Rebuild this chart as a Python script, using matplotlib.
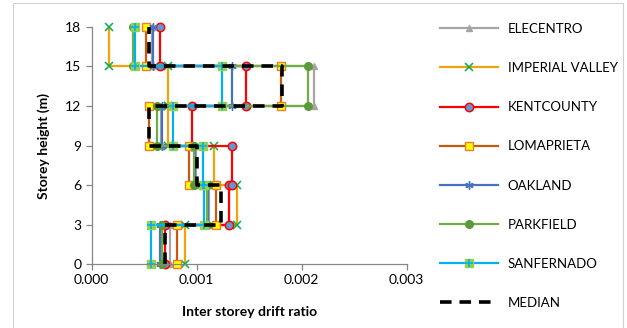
import numpy as np
import matplotlib
matplotlib.use("Agg")
import matplotlib.pyplot as plt
from matplotlib.patches import Rectangle

plt.rcParams['font.family'] = ['Lato', 'DejaVu Sans']

# storey levels (m) and inter storey drift per storey (ground storey first)
heights = [0, 3, 6, 9, 12, 15, 18]
elecentro = [0.000742, 0.00112, 0.000993, 0.000660, 0.00212, 0.000570]
imperial_valley = [0.000889, 0.001387, 0.001165, 0.000728, 0.000728, 0.000168]
kentcounty = [0.000695, 0.001310, 0.001336, 0.000958, 0.00147, 0.000650]
lomaprieta = [0.000815, 0.001184, 0.000930, 0.000546, 0.00180, 0.000518]
oakland = [0.000652, 0.001110, 0.000985, 0.000665, 0.001336, 0.000587]
parkfield = [0.000670, 0.001095, 0.000970, 0.000625, 0.002057, 0.000395]
sanfernado = [0.000560, 0.001070, 0.001057, 0.000771, 0.001238, 0.000414]
median = [0.000700, 0.001230, 0.001006, 0.000546, 0.001810, 0.000545]

labels = ['ELECENTRO', 'IMPERIAL VALLEY', 'KENTCOUNTY', 'LOMAPRIETA',
          'OAKLAND', 'PARKFIELD', 'SANFERNADO']
series = [elecentro, imperial_valley, kentcounty, lomaprieta,
          oakland, parkfield, sanfernado]
styles = [
    dict(color='#A5A5A5', marker='^', mfc='#A5A5A5', mec='#A5A5A5', ms=5),
    dict(color='#F0A30A', marker='x', mfc='none', mec='#00B050', ms=6, mew=1.1),
    dict(color='#FF0000', marker='o', mfc='#5B9BD5', mec='#FF0000', ms=6, mew=1.1),
    dict(color='#C55A11', marker='s', mfc='#FFFF00', mec='#ED7D31', ms=5.5, mew=1.0),
    dict(color='#4472C4', marker=(6, 2, 0), mfc='#4472C4', mec='#4472C4', ms=6, mew=1.0),
    dict(color='#70AD47', marker='o', mfc='#5B9A3A', mec='#5B9A3A', ms=5.5),
    dict(color='#00B0F0', marker='s', mfc='#92D050', mec='#92D050', ms=5.5),
]


def step_profile(drift):
    # each storey drift held constant between its floor and roof level
    x = np.repeat(drift, 2)
    y = np.repeat(heights, 2)[1:-1]
    return x, y


fig = plt.figure(figsize=(6.27, 3.28), dpi=100)
fig.patches.append(Rectangle((0.021, -0.02), 0.972, 1.01, transform=fig.transFigure,
                             fill=False, edgecolor='#D0D0D0', lw=0.8))
ax = fig.add_axes([0.1463, 0.1951, 0.5023, 0.7226])

handles = []
for drift, label, st in zip(series, labels, styles):
    x, y = step_profile(drift)
    line, = ax.plot(x, y, lw=1.6, label=label, clip_on=False, **st)
    handles.append(line)

# San Fernando marker gets a cyan cross on top of the green square
x, y = step_profile(sanfernado)
cross, = ax.plot(x, y, ls='none', marker='+', ms=6, mew=1.2, color='#00B0F0',
                 clip_on=False)
handles[-1] = (handles[-1], cross)

x, y = step_profile(median)
med, = ax.plot(x, y, color='black', lw=2.6, ls=(0, (3.2, 2.2)), label='MEDIAN',
               clip_on=False)
handles.append(med)

ax.set_xlim(0, 0.003)
ax.set_ylim(0, 18)
ax.set_xticks([0, 0.001, 0.002, 0.003])
ax.set_xticklabels(['0.000', '0.001', '0.002', '0.003'])
ax.set_yticks(heights)
for side in ['top', 'right']:
    ax.spines[side].set_visible(False)
for side in ['left', 'bottom']:
    ax.spines[side].set_color('#868686')
    ax.spines[side].set_linewidth(0.9)
ax.tick_params(colors='#868686', labelcolor='black', labelsize=10,
               length=4, width=0.9)
ax.set_xlabel('Inter storey drift ratio', fontsize=10, fontweight='bold', labelpad=14)
ax.set_ylabel('Storey height (m)', fontsize=10, fontweight='bold', labelpad=11)

ax.legend(handles, labels + ['MEDIAN'], loc='upper left',
          bbox_to_anchor=(1.09, 1.04), frameon=False,
          fontsize=9.5, handlelength=4.4, handletextpad=0.72, labelspacing=2.06,
          borderaxespad=0)

fig.savefig('out.png', dpi=100)
